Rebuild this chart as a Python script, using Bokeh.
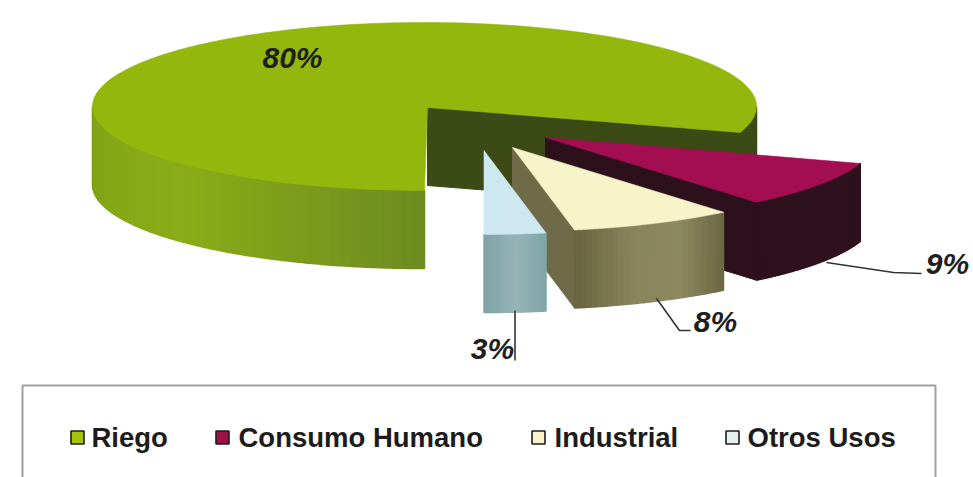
import numpy as np
from bokeh.plotting import figure
from bokeh.models import ColumnDataSource, Range1d
from bokeh.core.properties import value
from bokeh.embed import file_html
from bokeh.resources import INLINE

categories = ["Riego", "Consumo Humano", "Industrial", "Otros Usos"]
shares = [80, 9, 8, 3]
share_labels = ["80%", "9%", "8%", "3%"]

top_colors = ["#93b70d", "#a30d52", "#f8f4c9", "#cde8f0"]
wall_colors = ["#3c4a16", "#2c111c", "#6f6a48", None]
rim_stops = [
    ["#7f9f12", "#86a816", "#8aac18", "#7d9c1c", "#6c8c20"],
    ["#2c111c", "#30121e", "#2c111c"],
    ["#6b6745", "#8d8a60", "#87845c", "#66633f"],
    ["#7fa5a8", "#96b4b6", "#7fa3a6"],
]
legend_colors = ["#a4c40c", "#a01048", "#f8f4c9", "#e4f0f2"]

# Layout in picture pixels
APEX = [(427, 107), (545, 137), (512, 147), (483.5, 150)]
MAIN_CENTER = (424, 106)
MAIN_RX = 332
RX, RY, DEPTH = 331, 84, 78
LEGEND_MARK_X = [77, 222, 538, 732]
LEGEND_TEXT_X = [91, 238, 554, 747]
LEGEND_Y = 437
LABEL_POS = [(292, 57), (947, 263), (715, 321), (492, 348)]
LEADERS = [
    None,
    ([826, 893, 921], [262, 272, 273]),
    ([656, 679, 690], [298, 330, 330]),
    ([514.5, 514.5], [310, 360]),
]
BOX = ([22, 22, 935, 935], [490, 385, 385, 490])


def hex2rgb(h):
    return np.array([int(h[i:i + 2], 16) for i in (1, 3, 5)], dtype=float)


def ramp(stops, f):
    pos = f * (len(stops) - 1)
    i = min(int(pos), len(stops) - 2)
    c = hex2rgb(stops[i]) * (1 - (pos - i)) + hex2rgb(stops[i + 1]) * (pos - i)
    return "#%02x%02x%02x" % tuple(int(round(v)) for v in c)


def pt(center, t, rx=RX):
    return center[0] + rx * np.cos(t), center[1] + RY * np.sin(t)


# Slices run clockwise on screen from the front of the pie; y grows downward,
# so clockwise on screen is increasing screen angle starting at 90 degrees.
edges = [0.0]
for s in shares:
    edges.append(edges[-1] + s / sum(shares) * 2 * np.pi)
t_edges = [np.pi / 2 + e for e in edges]

p = figure(width=973, height=477, x_range=Range1d(0, 973), y_range=Range1d(477, 0),
           output_backend="svg", toolbar_location=None, min_border=0,
           background_fill_color="white", border_fill_color="white")
p.axis.visible = False
p.grid.visible = False
p.outline_line_color = None


def draw_strips(center, rx, t0, t1, stops, n=30):
    xs, ys, cs = [], [], []
    grid = np.linspace(t0, t1, n + 1)
    for i in range(n):
        tt = np.linspace(grid[i], grid[i + 1], 4)
        x, y = pt(center, tt, rx)
        xs.append(list(x) + list(x[::-1]))
        ys.append(list(y) + list((y + DEPTH)[::-1]))
        cs.append(ramp(stops, (i + .5) / n))
    p.patches(xs, ys, fill_color=cs, line_color=cs, line_width=1.5)


def draw_wall(apex, ex, ey, color):
    p.patch([apex[0], ex, ex, apex[0]], [apex[1], ey, ey + DEPTH, apex[1] + DEPTH],
            fill_color=color, line_color=color)


for k in range(len(shares)):
    apex = APEX[k]
    center = MAIN_CENTER if k == 0 else apex
    rx = MAIN_RX if k == 0 else RX
    a, b = t_edges[k], t_edges[k + 1]
    if k == 0:
        # front-left rim, the cut wall, then the short dark rim at the far right
        draw_strips(center, rx, np.pi, np.pi / 2, rim_stops[0], n=50)
        ex, ey = pt(center, b, rx)
        draw_wall(apex, ex, ey, wall_colors[0])
        draw_strips(center, rx, 0, b - 2 * np.pi, [wall_colors[0], wall_colors[0]], n=6)
    else:
        if wall_colors[k] is not None:
            ex, ey = pt(center, b, rx)
            draw_wall(apex, ex, ey, wall_colors[k])
        draw_strips(center, rx, a - 2 * np.pi, b - 2 * np.pi, rim_stops[k])
    tt = np.linspace(a, b, 200)
    x, y = pt(center, tt, rx)
    if k == 0:
        # the front of the big slice stops at the vertical cut below the apex
        keep = x <= apex[0]
        first = np.argmax(keep)
        x, y = x[first:], y[first:]
    p.patch([apex[0]] + list(x), [apex[1]] + list(y),
            fill_color=top_colors[k], line_color=top_colors[k], line_width=0.6)

for lead in LEADERS:
    if lead:
        p.line(lead[0], lead[1], line_color="#333333", line_width=1.6)

src = ColumnDataSource(dict(x=[q[0] for q in LABEL_POS], y=[q[1] for q in LABEL_POS], t=share_labels))
p.text("x", "y", text="t", source=src, text_align="center", text_baseline="middle",
       text_font=value("Liberation Sans"), text_font_style="bold italic",
       text_font_size="30px", text_color="#1f1f1f")

p.line(BOX[0], BOX[1], line_color="#a0a0a0", line_width=2)
p.scatter(LEGEND_MARK_X, [LEGEND_Y] * 4, marker="square", size=13,
          fill_color=legend_colors, line_color="#1c1c1c", line_width=1.6)
p.text(LEGEND_TEXT_X, [LEGEND_Y] * 4, text=categories, text_align="left", text_baseline="middle",
       text_font=value("Liberation Sans"), text_font_style="bold",
       text_font_size="27.5px", text_color="#1c1c1c")

open("out.html", "w").write(file_html(p, INLINE))
